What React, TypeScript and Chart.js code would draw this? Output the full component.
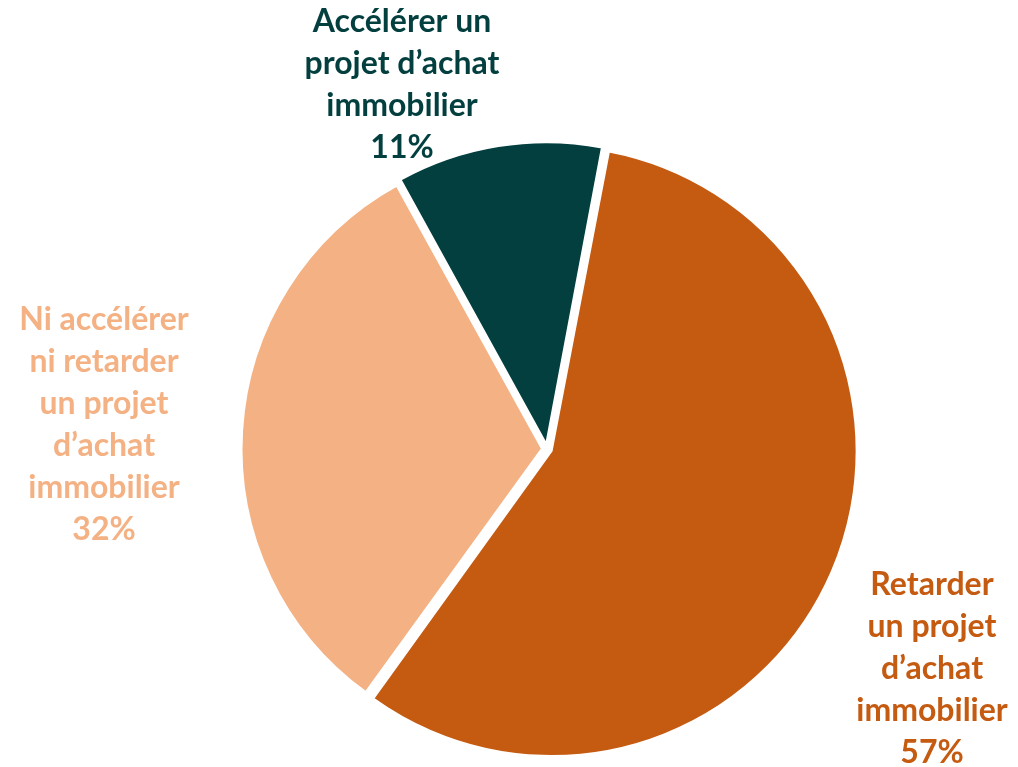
import React, { useEffect, useRef } from "react";
import { Chart, registerables } from "chart.js";

Chart.register(...registerables);

const categories = [
  "Retarder un projet d’achat immobilier",
  "Ni accélérer ni retarder un projet d’achat immobilier",
  "Accélérer un projet d’achat immobilier",
];
const values = [57, 32, 11];
const sliceColors = ["#C55A11", "#F4B183", "#023F3E"];

// Wrapped label lines as displayed
const labelLines = [
  ["Retarder", "un projet", "d’achat", "immobilier"],
  ["Ni accélérer", "ni retarder", "un projet", "d’achat", "immobilier"],
  ["Accélérer un", "projet d’achat", "immobilier"],
];
// Label anchor (center x, first baseline) relative to pie center, px
const labelAnchors = [
  [385, 146],
  [-443, -119],
  [-145, -417],
];

const LINE_HEIGHT = 42;
const FONT = "bold 32px Lato, 'Open Sans', sans-serif";

const labelPlugin = {
  id: "outsideLabels",
  afterDraw(chart: any) {
    const meta = chart.getDatasetMeta(0);
    const ctx = chart.ctx;
    ctx.save();
    ctx.font = FONT;
    ctx.textAlign = "center";
    ctx.textBaseline = "alphabetic";
    meta.data.forEach((arc: any, i: number) => {
      const [dx, dy] = labelAnchors[i];
      const lines = [...labelLines[i], `${values[i]}%`];
      ctx.fillStyle = sliceColors[i];
      lines.forEach((line, j) => {
        ctx.fillText(line, arc.x + dx, arc.y + dy + j * LINE_HEIGHT);
      });
    });
    ctx.restore();
  },
};

export default function App() {
  const canvasRef = useRef<HTMLCanvasElement | null>(null);

  useEffect(() => {
    if (!canvasRef.current) return;
    const chart = new Chart(canvasRef.current, {
      type: "pie",
      data: {
        labels: categories,
        datasets: [
          {
            data: values,
            backgroundColor: sliceColors,
            borderColor: "#FFFFFF",
            borderWidth: 2,
            offset: 20,
            hoverOffset: 0,
            radius: 300,
          } as any,
        ],
      },
      options: {
        animation: false,
        responsive: true,
        maintainAspectRatio: false,
        rotation: 10.7,
        layout: { padding: { left: 76, right: 0, top: 131, bottom: 0 } },
        plugins: {
          legend: { display: false },
          tooltip: { enabled: false },
        },
        events: [],
      },
      plugins: [labelPlugin],
    });
    return () => chart.destroy();
  }, []);

  return (
    <div
      style={{
        position: "absolute",
        left: 0,
        top: 0,
        width: 1018,
        height: 767,
        background: "#FFFFFF",
      }}
    >
      <canvas ref={canvasRef} />
    </div>
  );
}
